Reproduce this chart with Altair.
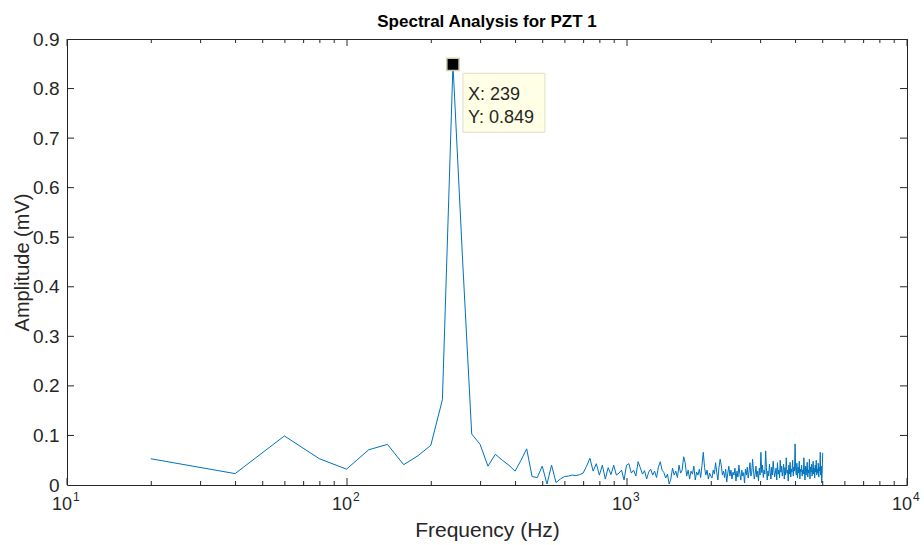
import altair as alt
import pandas as pd

# ---------------- data ----------------
bin_step_hz = 19.92  # FFT bin spacing (peak bin 12 -> 239 Hz)

amplitude_mv = [
    # 20 .. 996 Hz
    0.053, 0.023, 0.099, 0.053, 0.032, 0.071, 0.082, 0.041, 0.059, 0.080,
    0.172, 0.849, 0.450, 0.103, 0.082, 0.038, 0.062, 0.050, 0.040, 0.028,
    0.050, 0.073, 0.017, 0.015, 0.038, 0.002, 0.040, 0.005, 0.012, 0.017,
    0.018, 0.020, 0.019, 0.021, 0.024, 0.038, 0.054, 0.028, 0.043, 0.020,
    0.040, 0.012, 0.035, 0.021, 0.040, 0.020, 0.024, 0.030, 0.010, 0.040,
    # 1016 .. 2000
    0.043, 0.024, 0.030, 0.018, 0.047, 0.035, 0.022, 0.029, 0.012, 0.026,
    0.032, 0.020, 0.028, 0.015, 0.036, 0.047, 0.030, 0.025, 0.014, 0.022,
    0.002, 0.012, 0.034, 0.020, 0.028, 0.015, 0.040, 0.024, 0.030, 0.057,
    0.045, 0.018, 0.030, 0.012, 0.028, 0.022, 0.038, 0.010, 0.026, 0.020,
    0.032, 0.015, 0.040, 0.066, 0.035, 0.020, 0.030, 0.012, 0.024, 0.018,
    # 2012 .. 3000
    0.014, 0.030, 0.022, 0.045, 0.026, 0.010, 0.036, 0.052, 0.040, 0.020,
    0.028, 0.015, 0.032, 0.006, 0.024, 0.038, 0.018, 0.030, 0.012, 0.026,
    0.020, 0.034, 0.008, 0.028, 0.016, 0.040, 0.022, 0.010, 0.030, 0.018,
    0.025, 0.004, 0.032, 0.020, 0.036, 0.014, 0.028, 0.045, 0.018, 0.024,
    0.052, 0.030, 0.012, 0.022, 0.038, 0.016, 0.028, 0.008, 0.034, 0.020,
    # 3008 .. 3984
    0.066, 0.025, 0.040, 0.015, 0.030, 0.022, 0.069, 0.035, 0.010, 0.028,
    0.018, 0.042, 0.026, 0.012, 0.036, 0.020, 0.048, 0.030, 0.016, 0.024,
    0.034, 0.010, 0.045, 0.022, 0.030, 0.014, 0.050, 0.026, 0.038, 0.018,
    0.028, 0.042, 0.012, 0.035, 0.020, 0.055, 0.024, 0.030, 0.008, 0.040,
    0.022, 0.046, 0.016, 0.032, 0.026, 0.050, 0.018, 0.036, 0.028, 0.083,
    # 4004 .. 5000
    0.030, 0.020, 0.044, 0.014, 0.036, 0.024, 0.048, 0.012, 0.032, 0.026,
    0.040, 0.018, 0.030, 0.022, 0.055, 0.028, 0.010, 0.038, 0.020, 0.034,
    0.046, 0.016, 0.030, 0.024, 0.052, 0.012, 0.036, 0.026, 0.042, 0.018,
    0.030, 0.048, 0.022, 0.034, 0.014, 0.040, 0.026, 0.050, 0.020, 0.032,
    0.024, 0.044, 0.016, 0.036, 0.028, 0.066, 0.020, 0.038, 0.004, 0.030,
    0.065,
]
freq_hz = [round(bin_step_hz * (i + 1), 2) for i in range(len(amplitude_mv))]

peak_freq = [239]
peak_amp = [0.849]
peak_label_x = ["X: 239"]
peak_label_y = ["Y: 0.849"]

x_major = [10, 100, 1000, 10000]
x_major_base = ["10", "10", "10", "10"]
x_major_exp = ["1", "2", "3", "4"]
x_minor = [20, 30, 40, 50, 60, 70, 80, 90,
           200, 300, 400, 500, 600, 700, 800, 900,
           2000, 3000, 4000, 5000, 6000, 7000, 8000, 9000]
y_ticks = [0.1, 0.2, 0.3, 0.4, 0.5, 0.6, 0.7, 0.8]
y_labels = [0, 0.1, 0.2, 0.3, 0.4, 0.5, 0.6, 0.7, 0.8, 0.9]

title_text = "Spectral Analysis for PZT 1"
x_title = "Frequency (Hz)"
y_title = "Amplitude (mV)"

# ---------------- layout ----------------
W, H = 840, 446
FONT = "Liberation Sans"
AX = "#262626"
LINE = "#0072BD"

spec = pd.DataFrame({"f": freq_hz, "a": amplitude_mv})
peak = pd.DataFrame({"f": peak_freq, "a": peak_amp, "lx": peak_label_x, "ly": peak_label_y})
xmaj = pd.DataFrame({"f": x_major, "base": x_major_base, "exp": x_major_exp})
xmin = pd.DataFrame({"f": x_minor})
yt = pd.DataFrame({"a": y_ticks})

xscale = alt.Scale(type="log", domain=[10, 10000], nice=False)
yscale = alt.Scale(domain=[0, 0.9], nice=False, zero=False)

xenc = alt.X("f:Q", scale=xscale, title=x_title,
             axis=alt.Axis(values=x_major, labels=False, ticks=False, grid=False,
                           domain=False, titleFontSize=21, titleColor=AX,
                           titleFont=FONT, titleFontWeight="normal", titlePadding=34))
yenc = alt.Y("a:Q", scale=yscale, title=y_title,
             axis=alt.Axis(values=y_labels, ticks=False, grid=False, domain=False,
                           labelExpr="datum.value == 0 ? '0' : format(datum.value, '.1f')",
                           labelFontSize=19, labelColor=AX, labelFont=FONT, labelPadding=8,
                           titleFontSize=20, titleColor=AX, titleFont=FONT,
                           titleFontWeight="normal", titleX=-35, titleBaseline="bottom"))

line = alt.Chart(spec).mark_line(color=LINE, strokeWidth=1, clip=True).encode(x=xenc, y=yenc)

fx = alt.X("f:Q", scale=xscale)
fy = alt.Y("a:Q", scale=yscale)

def xticks(df, L):
    bot = alt.Chart(df).mark_rule(color=AX, strokeWidth=1).encode(
        x=fx, y=alt.value(H), y2=alt.value(H - L))
    top = alt.Chart(df).mark_rule(color=AX, strokeWidth=1).encode(
        x=fx, y=alt.value(0), y2=alt.value(L))
    return bot + top

yt_left = alt.Chart(yt).mark_rule(color=AX, strokeWidth=1).encode(
    y=fy, x=alt.value(0), x2=alt.value(7))
yt_right = alt.Chart(yt).mark_rule(color=AX, strokeWidth=1).encode(
    y=fy, x=alt.value(W), x2=alt.value(W - 7))

xlab_base = alt.Chart(xmaj).mark_text(font=FONT, fontSize=18, color=AX, align="right",
                                      baseline="top", dx=5).encode(
    x=fx, y=alt.value(H + 11), text="base:N")
xlab_exp = alt.Chart(xmaj).mark_text(font=FONT, fontSize=12, color=AX, align="left",
                                     baseline="top", dx=6).encode(
    x=fx, y=alt.value(H + 7), text="exp:N")

box = alt.Chart(peak).mark_rect(fill="#FFFFE5", stroke="#DEDECB", strokeWidth=1,
                                xOffset=10, x2Offset=92, yOffset=9, y2Offset=68).encode(
    x=fx, x2="f:Q", y=fy, y2="a:Q")
marker = alt.Chart(peak).mark_square(size=150, fill="black", stroke="#D6D0A8",
                                     strokeWidth=1.5, opacity=1).encode(x=fx, y=fy)
tx = alt.Chart(peak).mark_text(font=FONT, fontSize=18, color=AX, align="left",
                               baseline="middle", dx=15, dy=31).encode(x=fx, y=fy, text="lx:N")
ty = alt.Chart(peak).mark_text(font=FONT, fontSize=18, color=AX, align="left",
                               baseline="middle", dx=15, dy=54).encode(x=fx, y=fy, text="ly:N")

chart = alt.layer(
    line, xticks(xmin, 4), xticks(xmaj, 7), yt_left, yt_right,
    xlab_base, xlab_exp, box, marker, tx, ty
).properties(
    width=W, height=H,
    title=alt.TitleParams(title_text, font=FONT, fontSize=17, fontWeight="bold",
                          color="black", anchor="middle", offset=-1),
    autosize=alt.AutoSizeParams(type="none"),
    padding={"left": 67, "top": 39, "right": 17, "bottom": 60},
).configure_view(
    stroke=AX, strokeWidth=1
)

chart.save("out.html", embed_options={"renderer": "svg", "actions": False})
